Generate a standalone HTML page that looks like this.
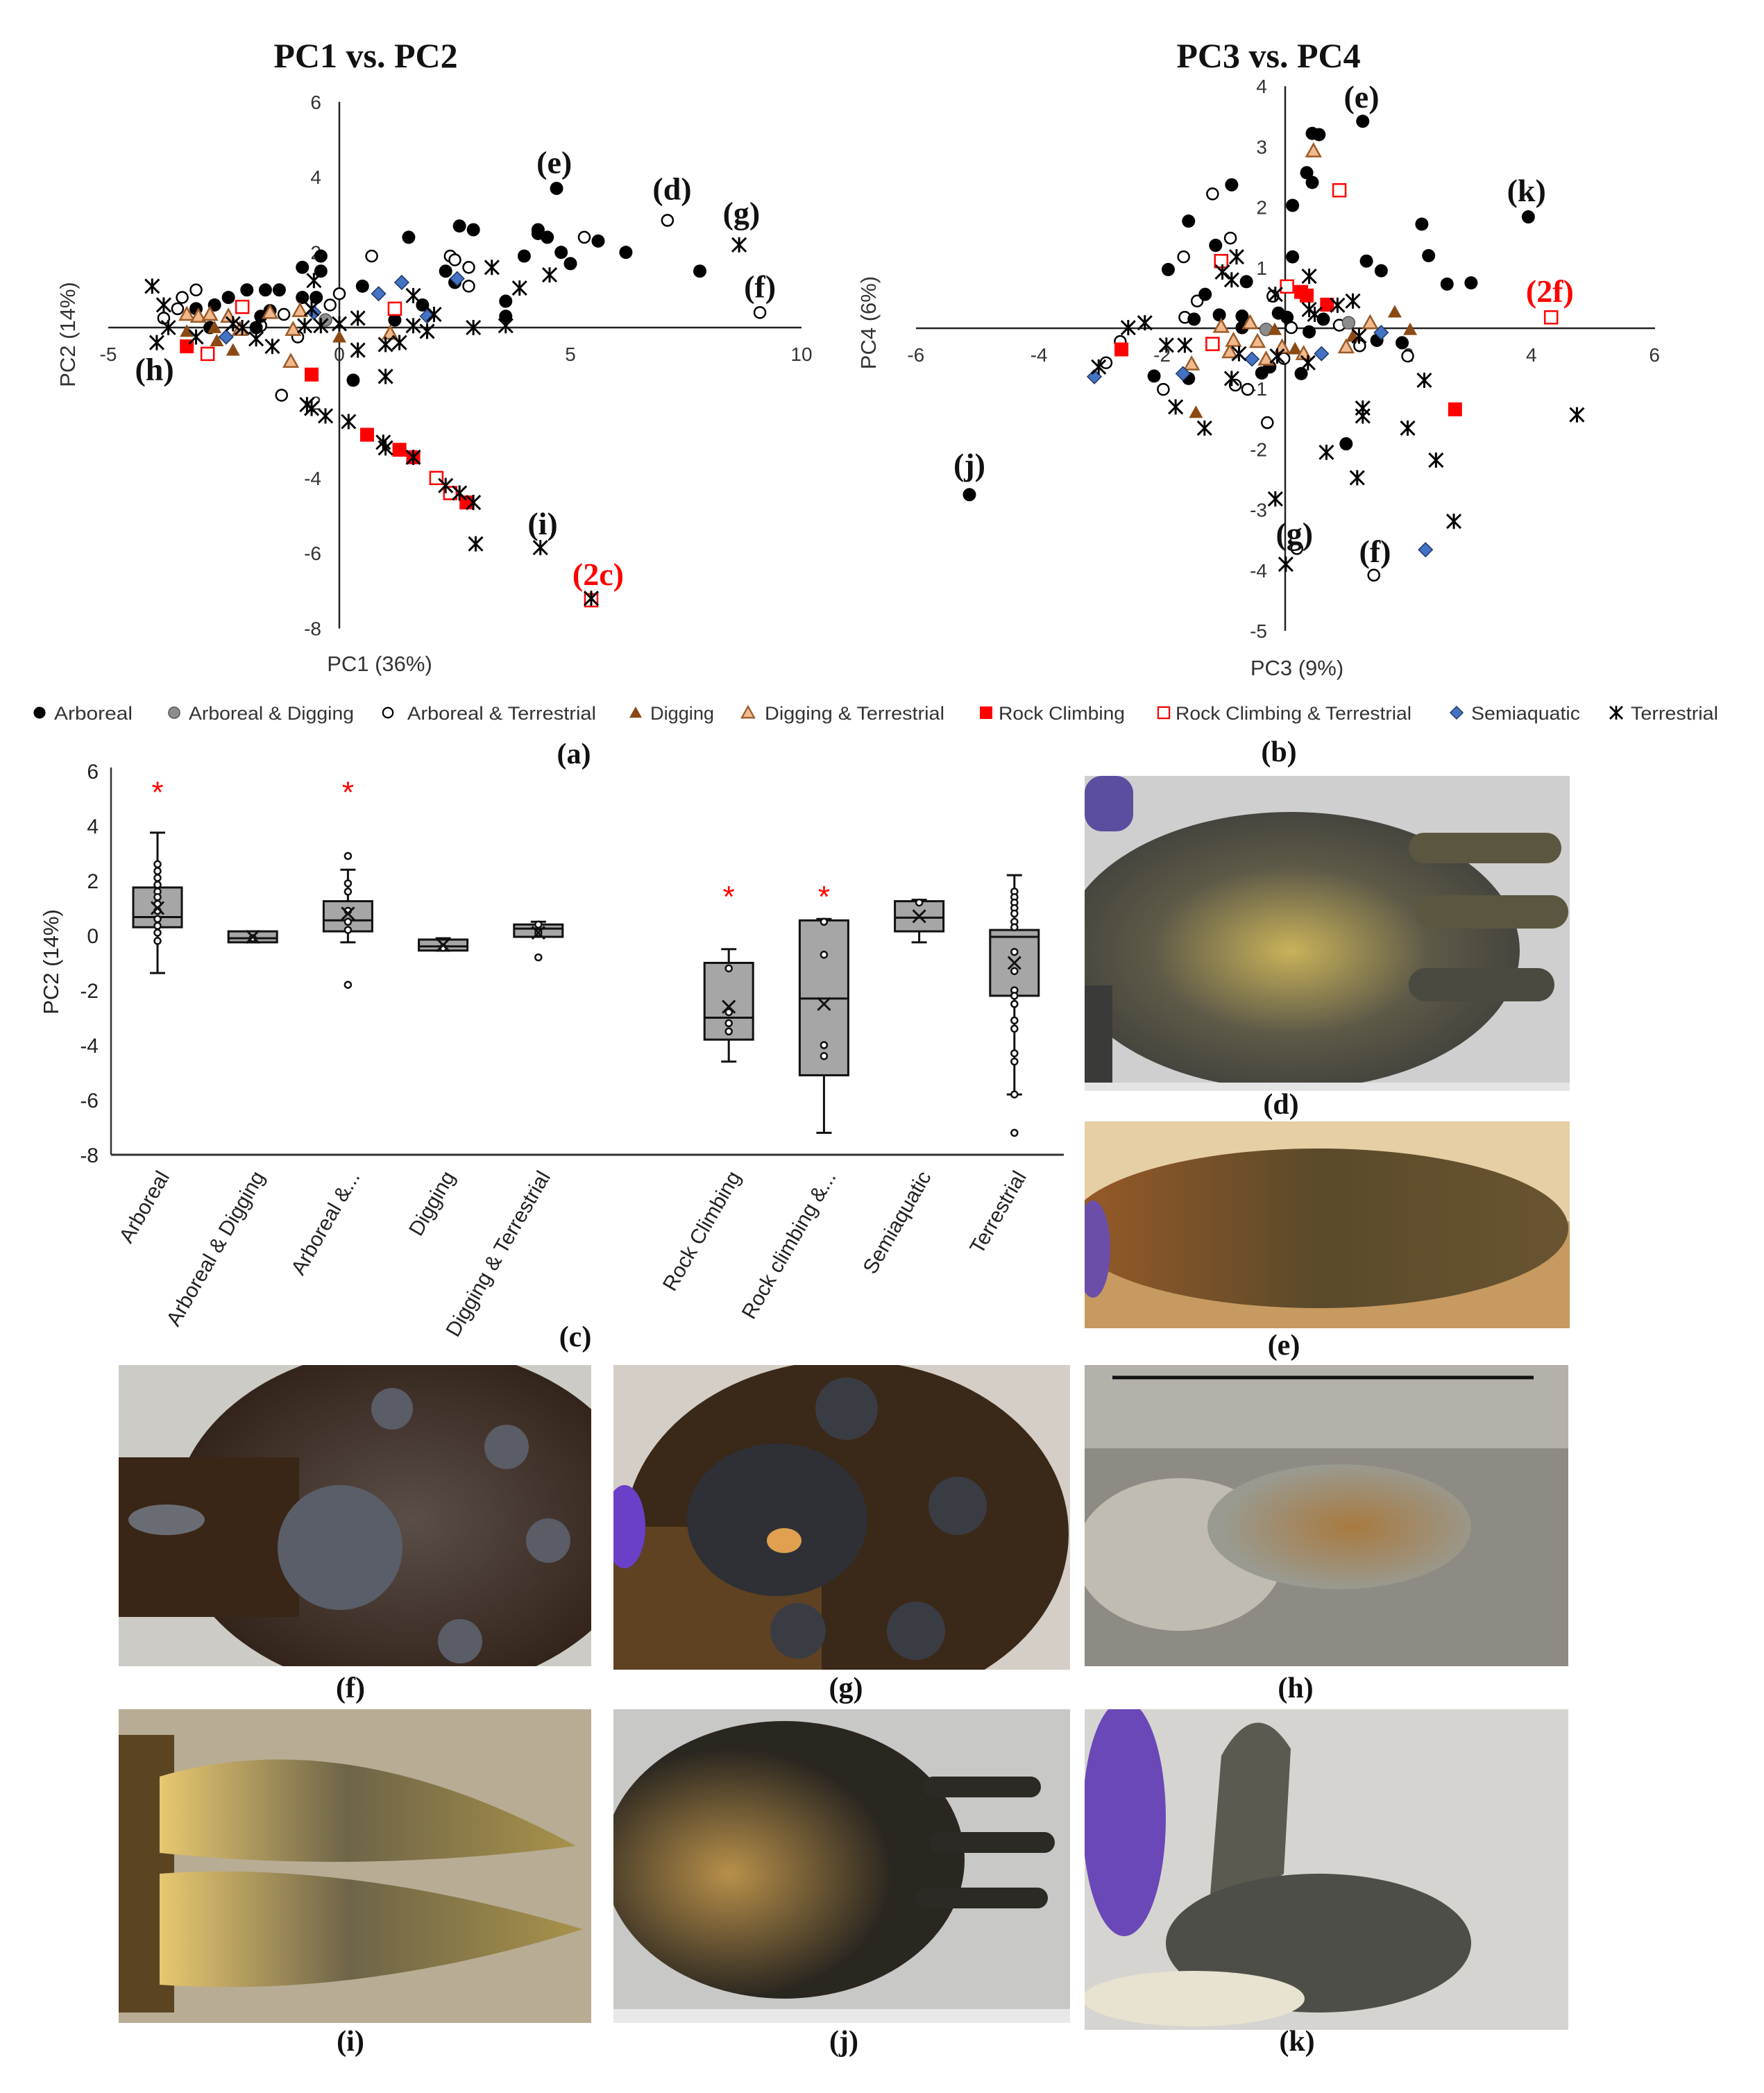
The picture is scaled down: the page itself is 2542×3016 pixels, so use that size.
<!DOCTYPE html>
<html><head><meta charset="utf-8"><title>Figure</title>
<style>
html,body{margin:0;padding:0;background:#fff;}
svg{display:block;}
.tk{font-family:"Liberation Sans",sans-serif;font-size:28px;fill:#333;}
.ann{font-family:"Liberation Serif",serif;font-weight:bold;font-size:46px;fill:#111;}
.ttl{font-family:"Liberation Serif",serif;font-weight:bold;font-size:50px;fill:#111;}
.lab{font-family:"Liberation Serif",serif;font-weight:bold;font-size:42px;fill:#111;}
.leg{font-family:"Liberation Sans",sans-serif;font-size:27px;fill:#333;}
.cat{font-family:"Liberation Sans",sans-serif;font-size:30px;fill:#222;}
</style></head>
<body>
<svg id="fig" xmlns="http://www.w3.org/2000/svg" width="2542" height="3016" viewBox="0 0 2542 3016">
<defs>
<radialGradient id="gd" cx="0.5" cy="0.5" r="0.6"><stop offset="0" stop-color="#c9b25a"/><stop offset="0.5" stop-color="#5e5a48"/><stop offset="1" stop-color="#3a3a38"/></radialGradient>
<linearGradient id="ge" x1="0" x2="1"><stop offset="0" stop-color="#9a5a28"/><stop offset="0.5" stop-color="#5a4a2a"/><stop offset="1" stop-color="#6a5432"/></linearGradient>
<radialGradient id="gf" cx="0.5" cy="0.5" r="0.6"><stop offset="0" stop-color="#5a4e48"/><stop offset="1" stop-color="#2c1c12"/></radialGradient>
<radialGradient id="gh" cx="0.55" cy="0.5" r="0.5"><stop offset="0" stop-color="#a87a40"/><stop offset="1" stop-color="#9a9a90"/></radialGradient>
<linearGradient id="gi" x1="0" x2="1"><stop offset="0" stop-color="#e8c870"/><stop offset="0.45" stop-color="#6e6448"/><stop offset="1" stop-color="#a8924a"/></linearGradient>
<radialGradient id="gj" cx="0.35" cy="0.55" r="0.45"><stop offset="0" stop-color="#b8904a"/><stop offset="1" stop-color="#2a2620"/></radialGradient>
<clipPath id="cd"><rect x="1563" y="1118" width="699" height="454"/></clipPath>
<clipPath id="ce"><rect x="1563" y="1616" width="699" height="298"/></clipPath>
<clipPath id="cf"><rect x="171" y="1967" width="681" height="434"/></clipPath>
<clipPath id="cg"><rect x="884" y="1967" width="658" height="439"/></clipPath>
<clipPath id="ch"><rect x="1563" y="1967" width="697" height="434"/></clipPath>
<clipPath id="ci"><rect x="171" y="2463" width="681" height="452"/></clipPath>
<clipPath id="cj"><rect x="884" y="2463" width="658" height="452"/></clipPath>
<clipPath id="ck"><rect x="1563" y="2463" width="697" height="462"/></clipPath>
</defs>
<g id="pca1"></g>
<g id="pca2"></g>
<g id="legend"></g>
<g id="box"></g>
<g id="photos">
 <g clip-path="url(#cd)">
  <rect x="1563" y="1118" width="699" height="454" fill="#cfcfcf"/>
  <ellipse cx="1860" cy="1370" rx="330" ry="200" fill="url(#gd)"/>
  <rect x="2030" y="1200" width="220" height="44" rx="22" fill="#5a5640"/>
  <rect x="2040" y="1290" width="220" height="48" rx="24" fill="#5a5640"/>
  <rect x="2030" y="1395" width="210" height="48" rx="24" fill="#4a4a40"/>
  <rect x="1563" y="1420" width="40" height="150" fill="#3a3a38"/>
  <rect x="1563" y="1118" width="70" height="80" rx="25" fill="#5b4ea0"/>
  <rect x="1563" y="1560" width="699" height="12" fill="#e4e4e4"/>
 </g>
 <g clip-path="url(#ce)">
  <rect x="1563" y="1616" width="699" height="298" fill="#e6cfa4"/>
  <rect x="1563" y="1760" width="699" height="154" fill="#c69a60"/>
  <ellipse cx="1900" cy="1770" rx="360" ry="115" fill="url(#ge)"/>
  <ellipse cx="1575" cy="1800" rx="25" ry="70" fill="#6a4ea8"/>
 </g>
 <g clip-path="url(#cf)">
  <rect x="171" y="1967" width="681" height="434" fill="#cdcbc6"/>
  <ellipse cx="590" cy="2190" rx="340" ry="250" fill="url(#gf)"/>
  <rect x="171" y="2100" width="260" height="230" fill="#3a2616"/>
  <ellipse cx="490" cy="2230" rx="90" ry="90" fill="#5a5e68"/>
  <circle cx="565" cy="2030" r="30" fill="#5a5c66"/><circle cx="730" cy="2085" r="32" fill="#5a5c66"/>
  <circle cx="790" cy="2220" r="32" fill="#5a5c66"/><circle cx="663" cy="2365" r="32" fill="#5a5c66"/>
  <ellipse cx="240" cy="2190" rx="55" ry="22" fill="#6a6c74"/>
 </g>
 <g clip-path="url(#cg)">
  <rect x="884" y="1967" width="658" height="439" fill="#d4cec6"/>
  <ellipse cx="1220" cy="2210" rx="320" ry="250" fill="#3a2818"/>
  <rect x="884" y="2200" width="300" height="210" fill="#5e4222"/>
  <ellipse cx="1120" cy="2190" rx="130" ry="110" fill="#2e3036"/>
  <circle cx="1220" cy="2030" r="45" fill="#3a3c44"/><circle cx="1380" cy="2170" r="42" fill="#3a3c44"/>
  <circle cx="1150" cy="2350" r="40" fill="#3a3c44"/><circle cx="1320" cy="2350" r="42" fill="#3a3c44"/>
  <ellipse cx="900" cy="2200" rx="30" ry="60" fill="#6a40c8"/>
  <ellipse cx="1130" cy="2220" rx="25" ry="18" fill="#e0a050"/>
 </g>
 <g clip-path="url(#ch)">
  <rect x="1563" y="1967" width="697" height="434" fill="#8e8a84"/>
  <rect x="1563" y="1967" width="697" height="120" fill="#b4b0aa"/>
  <ellipse cx="1700" cy="2240" rx="150" ry="110" fill="#c0bcb2"/>
  <ellipse cx="1930" cy="2200" rx="190" ry="90" fill="url(#gh)"/>
  <line x1="1603" y1="1985" x2="2210" y2="1985" stroke="#111" stroke-width="5"/>
 </g>
 <g clip-path="url(#ci)">
  <rect x="171" y="2463" width="681" height="452" fill="#b8ac94"/>
  <rect x="171" y="2500" width="80" height="400" fill="#5a4422"/>
  <path d="M230 2560 Q500 2480 830 2660 Q520 2700 230 2670 Z" fill="url(#gi)"/>
  <path d="M230 2700 Q500 2680 840 2780 Q520 2880 230 2860 Z" fill="url(#gi)"/>
 </g>
 <g clip-path="url(#cj)">
  <rect x="884" y="2463" width="658" height="452" fill="#c8c8c6"/>
  <ellipse cx="1130" cy="2680" rx="260" ry="200" fill="url(#gj)"/>
  <rect x="1330" y="2560" width="170" height="30" rx="15" fill="#2c2a24"/>
  <rect x="1340" y="2640" width="180" height="30" rx="15" fill="#2c2a24"/>
  <rect x="1320" y="2720" width="190" height="30" rx="15" fill="#2c2a24"/>
  <rect x="884" y="2895" width="658" height="20" fill="#e8e8e8"/>
 </g>
 <g clip-path="url(#ck)">
  <rect x="1563" y="2463" width="697" height="462" fill="#d6d4d0"/>
  <ellipse cx="1620" cy="2620" rx="60" ry="170" fill="#6a48b8"/>
  <path d="M1740 2780 L1760 2530 Q1810 2440 1860 2520 L1850 2700 Z" fill="#5a5a50"/>
  <ellipse cx="1900" cy="2800" rx="220" ry="100" fill="#4e4e48"/>
  <ellipse cx="1720" cy="2880" rx="160" ry="40" fill="#e8e2d0"/>
 </g>
 <text class="lab" x="1846" y="1605" text-anchor="middle">(d)</text>
 <text class="lab" x="1850" y="1952" text-anchor="middle">(e)</text>
 <text class="lab" x="505" y="2446" text-anchor="middle">(f)</text>
 <text class="lab" x="1219" y="2446" text-anchor="middle">(g)</text>
 <text class="lab" x="1867" y="2446" text-anchor="middle">(h)</text>
 <text class="lab" x="505" y="2955" text-anchor="middle">(i)</text>
 <text class="lab" x="1216" y="2955" text-anchor="middle">(j)</text>
 <text class="lab" x="1869" y="2955" text-anchor="middle">(k)</text>
 <text class="lab" x="827" y="1100" text-anchor="middle">(a)</text>
 <text class="lab" x="1843" y="1097" text-anchor="middle">(b)</text>
 <text class="lab" x="829" y="1940" text-anchor="middle">(c)</text>
</g>
</svg>
<script>
const NS="http://www.w3.org/2000/svg";
// ---------- PC1 vs PC2 data ----------
const p1_arboreal=[[4.7,3.7],[2.6,2.7],[2.9,2.6],[1.5,2.4],[4.3,2.6],[4.3,2.5],[4.5,2.4],[5.6,2.3],[6.2,2.0],[4.8,2.0],[4.0,1.9],[5.0,1.7],[7.8,1.5],[-0.4,1.9],[-0.8,1.6],[-0.4,1.5],[2.3,1.5],[2.5,1.2],[3.6,0.7],[3.6,0.3],[1.8,0.6],[0.5,1.1],[-2.0,1.0],[-1.6,1.0],[-1.3,1.0],[-0.8,0.8],[-0.5,0.8],[-2.4,0.8],[-2.7,0.6],[-3.1,0.5],[-1.7,0.3],[1.2,0.2],[0.3,-1.4],[-2.8,0],[-1.8,0],[-1.5,0.45]];
const p1_arbTerr=[[7.1,2.85],[9.1,0.4],[5.3,2.4],[0.7,1.9],[2.4,1.9],[2.5,1.8],[2.8,1.6],[2.8,1.1],[0,0.9],[-0.2,0.6],[-3.1,1.0],[-3.4,0.8],[-3.5,0.5],[-3.8,0.25],[-1.2,0.35],[-0.9,-0.25],[-1.25,-1.8],[-1.7,0.05]];
const p1_arbDig=[[-0.3,0.2]];
const p1_digging=[[-3.3,-0.1],[-2.7,0],[-2.3,-0.6],[-2.65,-0.35],[0,-0.25]];
const p1_digTerr=[[-3.3,0.35],[-3.05,0.3],[-2.8,0.35],[-2.4,0.3],[-2.15,-0.05],[-1.5,0.4],[-0.85,0.45],[-1.0,-0.05],[-1.05,-0.9],[1.1,-0.15]];
const p1_rock=[[-3.3,-0.5],[-0.6,-1.25],[0.6,-2.85],[1.3,-3.25],[1.6,-3.45],[2.75,-4.65]];
const p1_rockTerr=[[-2.1,0.55],[-2.85,-0.7],[1.2,0.5],[2.1,-4.0],[2.4,-4.4],[5.45,-7.25]];
const p1_semi=[[1.35,1.2],[0.85,0.9],[2.55,1.3],[-0.55,0.4],[-2.45,-0.25],[1.9,0.3]];
const p1_terr=[[-4.05,1.1],[-3.8,0.6],[-3.7,0],[-3.95,-0.4],[-3.1,-0.25],[-0.55,1.25],[-0.6,0.5],[1.6,0.85],[3.3,1.6],[3.9,1.05],[4.55,1.4],[8.65,2.2],[0.4,0.25],[0,0.1],[0.4,-0.6],[1.0,-0.45],[1.3,-0.4],[1.0,-1.3],[1.6,0.05],[1.9,-0.1],[2.05,0.35],[2.9,0],[-0.7,-2.05],[-0.6,-2.15],[-0.3,-2.35],[0.2,-2.5],[0.95,-3.05],[1.0,-3.2],[1.6,-3.45],[2.3,-4.2],[2.6,-4.4],[2.9,-4.65],[2.95,-5.75],[4.35,-5.85],[5.45,-7.2],[-1.45,-0.5],[-1.8,-0.3],[-2.3,0.1],[-2.1,0],[-0.4,0.05],[-0.75,0.05],[3.6,0.05]];
const p1_annText=["(e)","(d)","(g)","(f)","(h)","(i)","(2c)"];
const p1_annPos=[[4.65,4.4],[7.2,3.7],[8.7,3.05],[9.1,1.1],[-4.0,-1.1],[4.4,-5.2],[5.6,-6.55]];
const p1_xTicks=[-5,0,5,10];
const p1_yTicks=[6,4,2,-2,-4,-6,-8];
// ---------- PC3 vs PC4 data ----------
const p2_arboreal=[[1.26,3.42],[0.44,3.22],[0.55,3.2],[0.35,2.57],[0.44,2.41],[-0.87,2.37],[0.12,2.03],[-1.57,1.77],[2.22,1.72],[3.95,1.84],[-1.13,1.37],[2.33,1.2],[0.12,1.18],[1.32,1.11],[1.56,0.95],[-1.9,0.97],[-0.63,0.77],[2.63,0.73],[3.02,0.75],[-1.3,0.56],[-1.48,0.15],[-1.07,0.22],[-0.7,0.2],[-0.11,0.25],[0.03,0.18],[0.62,0.15],[0.39,-0.06],[1.49,-0.2],[1.9,-0.24],[-2.13,-0.79],[-1.57,-0.83],[-0.38,-0.74],[0.26,-0.75],[0.99,-1.91],[-5.13,-2.75],[-0.25,-0.64],[-0.7,0.01]];
const p2_arbTerr=[[-1.18,2.22],[-0.89,1.49],[-1.65,1.18],[-1.43,0.45],[-1.63,0.18],[-0.2,0.53],[0.1,0.01],[0.88,0.05],[1.21,-0.29],[1.99,-0.46],[-2.68,-0.22],[-2.91,-0.57],[-1.98,-1.01],[-0.81,-0.94],[-0.61,-1.01],[-0.29,-1.56],[1.44,-4.08],[-0.02,-0.5],[0.19,-3.64]];
const p2_arbDig=[[-0.31,-0.02],[1.03,0.09]];
const p2_digging=[[1.78,0.27],[2.03,-0.02],[-0.17,-0.02],[0.16,-0.34],[-1.45,-1.39],[1.1,-0.13]];
const p2_digTerr=[[0.46,2.93],[-1.04,0.03],[-0.57,0.09],[1.38,0.09],[0.99,-0.31],[-0.45,-0.22],[-0.9,-0.39],[-1.52,-0.59],[-0.31,-0.51],[-0.05,-0.31],[0.3,-0.42],[-0.84,-0.2]];
const p2_rock=[[-2.66,-0.35],[0.35,0.54],[0.68,0.39],[2.76,-1.34],[0.26,0.6]];
const p2_rockTerr=[[0.88,2.28],[-1.04,1.11],[0.03,0.69],[-1.18,-0.26],[4.32,0.18]];
const p2_semi=[[-3.1,-0.8],[-1.66,-0.75],[-0.54,-0.51],[0.59,-0.42],[1.56,-0.07],[2.28,-3.66]];
const p2_terr=[[-2.55,0.01],[-2.28,0.09],[-1.93,-0.28],[-1.63,-0.28],[-3.03,-0.64],[-1.78,-1.3],[-1.31,-1.65],[-0.79,1.18],[-1.02,0.93],[-0.87,0.8],[0.39,0.86],[-0.16,0.56],[0.39,0.31],[1.1,0.45],[0.85,0.38],[0.48,0.23],[0.37,-0.57],[1.2,-0.13],[-0.75,-0.42],[-0.87,-0.83],[-0.13,-0.46],[2.26,-0.86],[1.26,-1.32],[1.26,-1.45],[1.99,-1.65],[0.67,-2.05],[2.45,-2.18],[1.17,-2.47],[2.74,-3.19],[4.74,-1.43],[-0.16,-2.82],[0.01,-3.9]];
const p2_annText=["(e)","(k)","(2f)","(j)","(g)","(f)"];
const p2_annPos=[[1.24,3.83],[3.92,2.28],[4.3,0.62],[-5.13,-2.25],[0.15,-3.39],[1.46,-3.68]];
const p2_xTicks=[-6,-4,-2,2,4,6];
const p2_yTicks=[4,3,2,1,-1,-2,-3,-4,-5];
// ---------- Boxplot data ----------
const boxCats=["Arboreal","Arboreal & Digging","Arboreal &...","Digging","Digging & Terrestrial","","Rock Climbing","Rock climbing &...","Semiaquatic","Terrestrial"];
const boxLow=[-1.37,-0.25,-0.25,-0.55,-0.05,null,-4.6,-7.2,-0.25,-5.8];
const boxQ1=[0.3,-0.25,0.15,-0.55,-0.05,null,-3.8,-5.1,0.15,-2.2];
const boxMed=[0.67,-0.1,0.55,-0.4,0.25,null,-3.0,-2.3,0.65,-0.05];
const boxQ3=[1.75,0.15,1.25,-0.15,0.4,null,-1.0,0.55,1.25,0.2];
const boxHigh=[3.75,0.15,2.4,-0.1,0.5,null,-0.5,0.6,1.3,2.2];
const boxMean=[1.0,-0.05,0.8,-0.35,0.1,null,-2.6,-2.5,0.7,-1.0];
const boxPts=[[2.6,2.35,2.1,1.85,1.6,1.4,1.15,0.9,0.6,0.35,0.1,-0.2],[-0.1],[2.9,1.9,1.6,0.9,0.5,0.2,-1.8],[-0.45],[0.4,0.1,-0.8],[],[-1.2,-2.8,-3.2,-3.5],[0.5,-0.7,-4.0,-4.4],[1.2],[1.6,1.4,1.2,1.0,0.8,0.5,0.3,-0.6,-1.3,-2.0,-2.2,-2.5,-3.1,-3.4,-4.3,-4.6,-5.8,-7.2]];
const boxStar=[5.4,null,5.4,null,null,null,1.6,1.6,null,null];
const boxYTicks=[6,4,2,0,-2,-4,-6,-8];
// ---------- Legend ----------
const legNames=["Arboreal","Arboreal & Digging","Arboreal & Terrestrial","Digging","Digging & Terrestrial","Rock Climbing","Rock Climbing & Terrestrial","Semiaquatic","Terrestrial"];
const legTypes=["arb","arbDig","arbTerr","dig","digTerr","rock","rockTerr","semi","terr"];

function el(tag,attrs,parent){const e=document.createElementNS(NS,tag);for(const k in attrs)e.setAttribute(k,attrs[k]);if(parent)parent.appendChild(e);return e;}

function marker(g,type,x,y,s){
  s=s||1;let m;
  if(type==="arb"){m=el("circle",{cx:x,cy:y,r:9.5*s,fill:"#000"},g);}
  else if(type==="arbDig"){m=el("circle",{cx:x,cy:y,r:9*s,fill:"#8c8c8c",stroke:"#555","stroke-width":1.5},g);}
  else if(type==="arbTerr"){m=el("circle",{cx:x,cy:y,r:8*s,fill:"#fff",stroke:"#000","stroke-width":2.5*s},g);}
  else if(type==="dig"){const h=10*s;m=el("polygon",{points:`${x},${y-h} ${x+h},${y+h*0.8} ${x-h},${y+h*0.8}`,fill:"#8b4a14"},g);}
  else if(type==="digTerr"){const h=10*s;m=el("polygon",{points:`${x},${y-h} ${x+h},${y+h*0.8} ${x-h},${y+h*0.8}`,fill:"#f2b98c",stroke:"#9a5a28","stroke-width":2.5*s},g);}
  else if(type==="rock"){const h=10*s;m=el("rect",{x:x-h,y:y-h,width:2*h,height:2*h,fill:"#ff0000"},g);}
  else if(type==="rockTerr"){const h=9*s;m=el("rect",{x:x-h,y:y-h,width:2*h,height:2*h,fill:"#fff",stroke:"#ff0000","stroke-width":2.5*s},g);}
  else if(type==="semi"){const h=10*s;m=el("polygon",{points:`${x},${y-h} ${x+h},${y} ${x},${y+h} ${x-h},${y}`,fill:"#4472c4",stroke:"#1f3864","stroke-width":1.5},g);}
  else if(type==="terr"){const h=10*s;m=el("g",{},g);
    el("line",{x1:x-h,y1:y-h,x2:x+h,y2:y+h,stroke:"#000","stroke-width":3*s},m);
    el("line",{x1:x-h,y1:y+h,x2:x+h,y2:y-h,stroke:"#000","stroke-width":3*s},m);
    el("line",{x1:x,y1:y-h*1.1,x2:x,y2:y+h*1.1,stroke:"#000","stroke-width":3*s},m);}
  return m;
}

function scatter(gid,cfg){
  const g=document.getElementById(gid);
  const X=v=>cfg.x0+v*cfg.xs, Y=v=>cfg.y0-v*cfg.ys;
  el("line",{x1:cfg.xl,y1:Y(0),x2:cfg.xr,y2:Y(0),stroke:"#222","stroke-width":2.5},g);
  el("line",{x1:X(0),y1:Y(cfg.ymax),x2:X(0),y2:Y(cfg.ymin),stroke:"#222","stroke-width":2.5},g);
  cfg.xt.forEach(v=>{const t=el("text",{x:X(v),y:Y(0)+48,"text-anchor":"middle",class:"tk"},g);t.textContent=v;
    
    });
  cfg.yt.forEach(v=>{const t=el("text",{x:X(0)-26,y:Y(v)+10,"text-anchor":"end",class:"tk"},g);t.textContent=v;
    
    });
  const order=[["arbTerr",cfg.arbTerr],["arb",cfg.arb],["arbDig",cfg.arbDig],["dig",cfg.dig],["digTerr",cfg.digTerr],["rock",cfg.rock],["rockTerr",cfg.rockTerr],["semi",cfg.semi],["terr",cfg.terr]];
  order.forEach(([type,arr])=>arr.forEach(p=>{const m=marker(g,type,X(p[0]),Y(p[1]));
    
    }));
  cfg.annText.forEach((s,i)=>{const t=el("text",{x:X(cfg.annPos[i][0]),y:Y(cfg.annPos[i][1])+16,"text-anchor":"middle",class:"ann"},g);t.textContent=s;
    if(s.indexOf("2")>=0)t.style.fill="#ff0000";
    
    });
  const tt=el("text",{x:cfg.tx,y:97,"text-anchor":"middle",class:"ttl"},g);tt.textContent=cfg.title;
  
  
  const xa=el("text",{x:cfg.xax[0],y:cfg.xax[1],"text-anchor":"middle",class:"tk"},g);xa.textContent=cfg.xaxt;xa.style.fontSize="31px";
  
  
  const ya=el("text",{x:0,y:0,"text-anchor":"middle",class:"tk",transform:`translate(${cfg.yax[0]},${cfg.yax[1]}) rotate(-90)`},g);ya.textContent=cfg.yaxt;ya.style.fontSize="31px";
  
  
}

scatter("pca1",{x0:489,xs:66.6,y0:472,ys:54.2,xl:156,xr:1155,ymax:6,ymin:-8,xt:p1_xTicks,yt:p1_yTicks,
  arb:p1_arboreal,arbTerr:p1_arbTerr,arbDig:p1_arbDig,dig:p1_digging,digTerr:p1_digTerr,rock:p1_rock,rockTerr:p1_rockTerr,semi:p1_semi,terr:p1_terr,
  annText:p1_annText,annPos:p1_annPos,title:"PC1 vs. PC2",tx:527,xax:[547,967],xaxt:"PC1 (36%)",yax:[108,482],yaxt:"PC2 (14%)"});
scatter("pca2",{x0:1852,xs:88.7,y0:473,ys:87.2,xl:1320,xr:2385,ymax:4,ymin:-5,xt:p2_xTicks,yt:p2_yTicks,
  arb:p2_arboreal,arbTerr:p2_arbTerr,arbDig:p2_arbDig,dig:p2_digging,digTerr:p2_digTerr,rock:p2_rock,rockTerr:p2_rockTerr,semi:p2_semi,terr:p2_terr,
  annText:p2_annText,annPos:p2_annPos,title:"PC3 vs. PC4",tx:1828,xax:[1869,973],xaxt:"PC3 (9%)",yax:[1262,465],yaxt:"PC4 (6%)"});

// legend
(function(){
  const g=document.getElementById("legend");
  const mx=[57,251,559,916,1078,1421,1677,2099,2329];
  const tx=[78,272,587,937,1102,1439,1694,2120,2350];
  const tw=[113,238,272,92,259,182,340,157,126];
  legNames.forEach((n,i)=>{
    const m=marker(g,legTypes[i],mx[i],1027,0.9);
    
    
    const t=el("text",{x:tx[i],y:1037,class:"leg",textLength:tw[i],lengthAdjust:"spacingAndGlyphs"},g);t.textContent=n;
    
    
  });
})();

// boxplot
(function(){
  const g=document.getElementById("box");
  const Y=v=>1348-v*39.5, X=i=>227+i*137.2, bw=70;
  el("line",{x1:160,y1:Y(6)-5,x2:160,y2:Y(-8),stroke:"#333","stroke-width":2.5},g);
  el("line",{x1:160,y1:Y(-8),x2:1533,y2:Y(-8),stroke:"#333","stroke-width":3},g);
  boxYTicks.forEach(v=>{const t=el("text",{x:142,y:Y(v)+11,"text-anchor":"end",class:"tk"},g);t.textContent=v;t.style.fontSize="30px";t.style.fill="#222";
    
    });
  const yt=el("text",{x:0,y:0,"text-anchor":"middle",class:"tk",transform:`translate(84,1386) rotate(-90)`},g);yt.textContent="PC2 (14%)";yt.style.fontSize="31px";yt.style.fill="#222";
  
  
  boxCats.forEach((c,i)=>{
    const x=X(i);
    if(c){const t=el("text",{x:0,y:0,"text-anchor":"end",class:"cat",transform:`translate(${x+18},${1695}) rotate(-60)`},g);t.textContent=c;
      
      }
    if(boxQ1[i]===null)return;
    const bg=el("g",{},g);
    
    
    el("line",{x1:x,y1:Y(boxHigh[i]),x2:x,y2:Y(boxLow[i]),stroke:"#111","stroke-width":3},bg);
    el("line",{x1:x-11,y1:Y(boxHigh[i]),x2:x+11,y2:Y(boxHigh[i]),stroke:"#111","stroke-width":3},bg);
    el("line",{x1:x-11,y1:Y(boxLow[i]),x2:x+11,y2:Y(boxLow[i]),stroke:"#111","stroke-width":3},bg);
    el("rect",{x:x-bw/2,y:Y(boxQ3[i]),width:bw,height:Math.max(2,Y(boxQ1[i])-Y(boxQ3[i])),fill:"#a6a6a6",stroke:"#111","stroke-width":3},bg);
    el("line",{x1:x-bw/2,y1:Y(boxMed[i]),x2:x+bw/2,y2:Y(boxMed[i]),stroke:"#111","stroke-width":3},bg);
    boxPts[i].forEach(v=>{const c=el("circle",{cx:x,cy:Y(v),r:4.5,fill:"#fff",stroke:"#111","stroke-width":2.5},bg);
      
      });
    const my=Y(boxMean[i]);
    el("path",{d:`M${x-9} ${my-9} L${x+9} ${my+9} M${x-9} ${my+9} L${x+9} ${my-9}`,stroke:"#111","stroke-width":3},bg);
    if(boxStar[i]!==null){const s=el("text",{x:x,y:Y(boxStar[i])+22,"text-anchor":"middle"},g);s.textContent="*";
      s.setAttribute("style","font-family:'Liberation Sans',sans-serif;font-size:44px;fill:#ff0000;");
      
      }
  });
})();
</script>
</body></html>
